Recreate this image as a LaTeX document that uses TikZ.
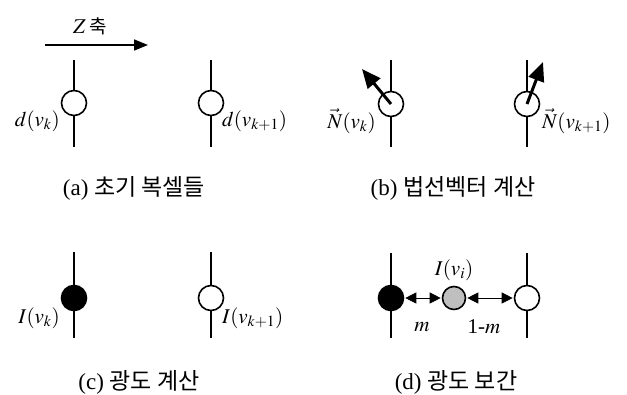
\documentclass[tikz,border=0pt]{standalone}
\usepackage{fontspec}
\usepackage{mathptmx}
\setmainfont{Liberation Serif}
\newfontfamily\kr{Noto Sans CJK KR}
\usetikzlibrary{arrows.meta}
\tikzset{
  stem/.style={line width=1.6pt},
  voxel/.style={circle,draw,line width=1.6pt,minimum size=25pt,inner sep=0pt,fill=white},
  lbl/.style={font=\fontsize{21}{24}\selectfont,inner sep=1pt},
  captext/.style={font=\fontsize{23}{27}\selectfont},
  normal/.style={line width=3pt,-{Triangle[length=19pt,width=16pt]}},
  dist/.style={line width=0.8pt,{Triangle[length=11pt,width=11pt]}-{Triangle[length=11pt,width=11pt]},shorten <=1pt,shorten >=1pt}
}
\begin{document}
\begin{tikzpicture}[x=1pt,y=-1pt]
\useasboundingbox (0,0) rectangle (627,394);
% Z axis
\coordinate (za) at (45,45);
\coordinate (zb) at (148,45);
\draw[line width=1.6pt,-{Triangle[length=14pt,width=11pt]}] (za) -- (zb);
\node[lbl] (zlab) at (90,26) {$Z$\,{\kr\fontsize{19}{22}\selectfont 축}};

% (a)
\coordinate (a1t) at (74,60); \coordinate (a1b) at (74,147);
\coordinate (a2t) at (211,60); \coordinate (a2b) at (211,147);
\draw[stem] (a1t) -- (a1b);
\draw[stem] (a2t) -- (a2b);
\node[voxel] (a1) at (74,103) {};
\node[voxel] (a2) at (211,103) {};
\node[lbl,anchor=east] (a1l) at (61,121) {$d(v_k)$};
\node[lbl,anchor=west] (a2l) at (221,121) {$d(v_{k+1})$};
\node[captext] (capa) at (134,188) {(a) {\kr 초기 복셀들}};

% (b)
\coordinate (b1t) at (391,60); \coordinate (b1b) at (391,147);
\coordinate (b2t) at (527,60); \coordinate (b2b) at (527,147);
\draw[stem] (b1t) -- (b1b);
\draw[stem] (b2t) -- (b2b);
\node[voxel] (b1) at (391,104) {};
\node[voxel] (b2) at (527,104) {};
\coordinate (n1) at (362,69);
\coordinate (n2) at (543,62);
\draw[normal] (b1.center) -- (n1);
\draw[normal] (b2.center) -- (n2);
\node[lbl,anchor=east] (b1l) at (377,121) {$\vec{N}(v_k)$};
\node[lbl,anchor=west] (b2l) at (541,121) {$\vec{N}(v_{k+1})$};
\node[captext] (capb) at (453,188) {(b) {\kr 법선벡터 계산}};

% (c)
\coordinate (c1t) at (74,252); \coordinate (c1b) at (74,338);
\coordinate (c2t) at (211,252); \coordinate (c2b) at (211,338);
\draw[stem] (c1t) -- (c1b);
\draw[stem] (c2t) -- (c2b);
\node[voxel,fill=black] (c1) at (74,298) {};
\node[voxel] (c2) at (211,298) {};
\node[lbl,anchor=east] (c1l) at (61,318) {$I(v_k)$};
\node[lbl,anchor=west] (c2l) at (221,318) {$I(v_{k+1})$};
\node[captext] (capc) at (139,382) {(c) {\kr 광도 계산}};

% (d)
\coordinate (d1t) at (391,253); \coordinate (d1b) at (391,338);
\coordinate (d3t) at (527,253); \coordinate (d3b) at (527,338);
\draw[stem] (d1t) -- (d1b);
\draw[stem] (d3t) -- (d3b);
\node[voxel,fill=black] (d1) at (391,298) {};
\node[voxel,fill=black!25,minimum size=23pt] (d2) at (454,298) {};
\node[voxel] (d3) at (527,298) {};
\draw[dist] (d1) -- (d2);
\draw[dist] (d2) -- (d3);
\node[lbl] (d2l) at (454,270) {$I(v_i)$};
\node[lbl] (ml) at (422,327) {$m$};
\node[lbl] (oml) at (484,327) {1-$m$};
\node[captext] (capd) at (456,382) {(d) {\kr 광도 보간}};
\end{tikzpicture}
\end{document}
